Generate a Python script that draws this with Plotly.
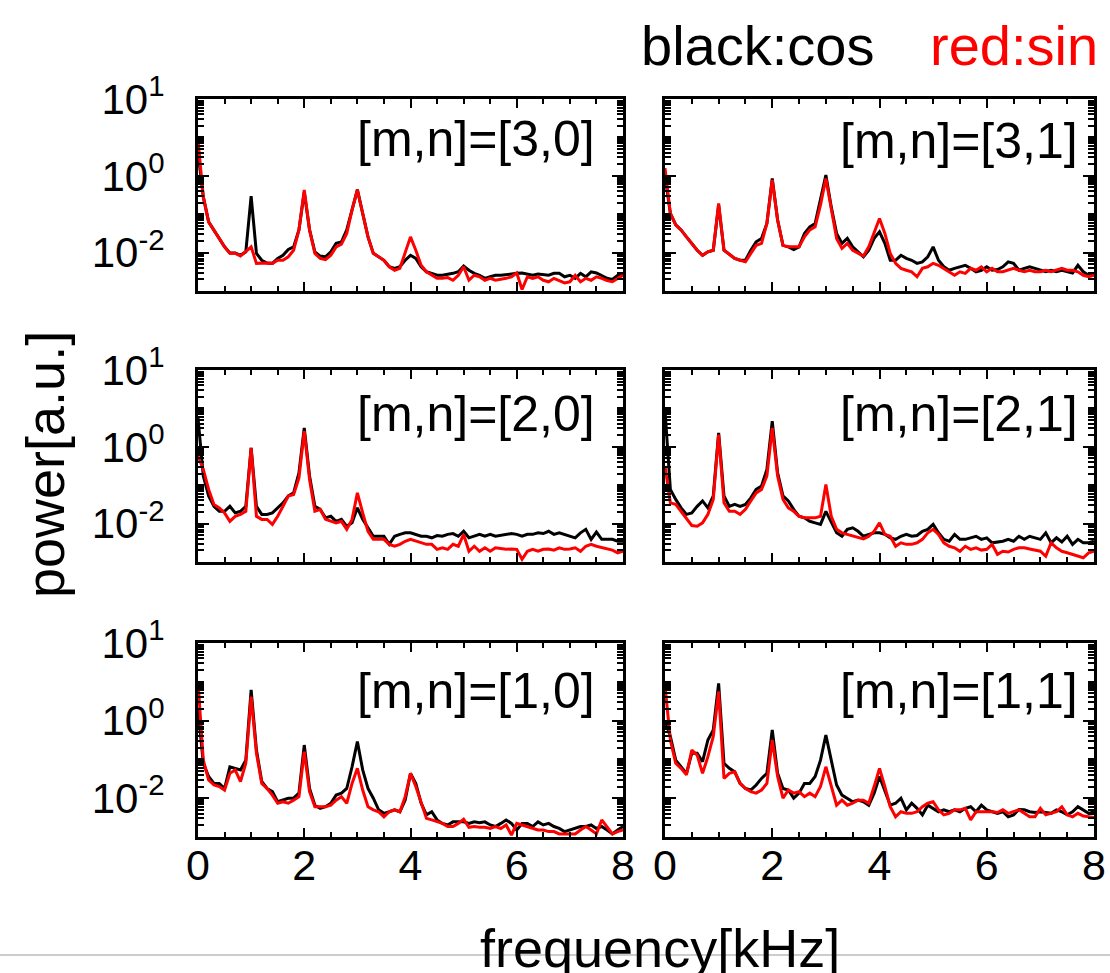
import numpy as np
import plotly.graph_objects as go

# frequency axis, 0 to 8 kHz in 0.1 kHz steps
freq_khz = np.round(np.arange(81) * 0.1, 1)

# log10 of spectral power for each mode; cos (black) and sin (red)
lg_cos_30 = [0.60, -0.55, -1.20, -1.41, -1.63, -1.85, -2.01, -2.01, -2.07, -1.98,
             -0.53, -2.02, -2.20, -2.27, -2.28, -2.15, -2.07, -1.92, -1.85, -1.41,
             -0.42, -1.41, -1.98, -2.09, -2.11, -1.98, -1.76, -1.72, -1.41, -0.89,
             -0.36, -0.98, -1.59, -2.02, -2.11, -2.20, -2.37, -2.41, -2.37, -2.20,
             -2.07, -2.15, -2.37, -2.50, -2.54, -2.59, -2.59, -2.57, -2.54, -2.50,
             -2.35, -2.46, -2.54, -2.59, -2.67, -2.63, -2.59, -2.59, -2.57, -2.56,
             -2.54, -2.53, -2.56, -2.59, -2.56, -2.57, -2.59, -2.54, -2.54, -2.63,
             -2.59, -2.67, -2.54, -2.63, -2.50, -2.53, -2.59, -2.67, -2.70, -2.59,
             -2.54]
lg_sin_30 = [0.93, -0.55, -1.20, -1.41, -1.63, -1.85, -2.02, -2.02, -2.09, -1.98,
             -1.85, -2.28, -2.27, -2.27, -2.28, -2.20, -2.20, -2.11, -1.94, -1.41,
             -0.37, -1.41, -2.02, -2.15, -2.18, -2.07, -1.85, -1.78, -1.50, -0.89,
             -0.37, -0.98, -1.59, -2.02, -2.11, -2.20, -2.37, -2.46, -2.41, -2.02,
             -1.59, -1.94, -2.33, -2.50, -2.59, -2.67, -2.67, -2.65, -2.72, -2.59,
             -2.37, -2.72, -2.59, -2.63, -2.72, -2.67, -2.72, -2.70, -2.67, -2.63,
             -2.53, -2.96, -2.63, -2.67, -2.63, -2.72, -2.76, -2.67, -2.72, -2.79,
             -2.76, -2.59, -2.76, -2.67, -2.72, -2.63, -2.67, -2.73, -2.76, -2.67,
             -2.59]

lg_cos_31 = [0.00, -0.98, -1.28, -1.41, -1.59, -1.76, -1.94, -2.07, -1.98, -1.94,
             -0.76, -1.94, -2.04, -2.15, -2.20, -2.20, -1.94, -1.72, -1.63, -1.24,
             -0.07, -1.15, -1.81, -1.85, -1.92, -1.85, -1.50, -1.33, -1.24, -0.63,
             0.02, -0.81, -1.50, -1.76, -1.63, -1.85, -1.98, -2.11, -1.94, -1.63,
             -1.46, -1.76, -2.20, -2.20, -2.07, -2.15, -2.20, -2.28, -2.24, -2.11,
             -1.85, -2.20, -2.37, -2.46, -2.41, -2.37, -2.33, -2.41, -2.50, -2.46,
             -2.37, -2.46, -2.44, -2.37, -2.24, -2.28, -2.46, -2.41, -2.37, -2.41,
             -2.46, -2.50, -2.46, -2.50, -2.46, -2.50, -2.53, -2.33, -2.50, -2.59,
             -2.54]
lg_sin_31 = [0.20, -0.98, -1.28, -1.41, -1.59, -1.76, -1.94, -2.07, -1.98, -1.94,
             -0.72, -1.94, -2.04, -2.15, -2.20, -2.24, -2.02, -1.81, -1.76, -1.24,
             -0.11, -1.15, -1.81, -1.85, -1.85, -1.85, -1.59, -1.41, -1.33, -0.76,
             -0.07, -0.89, -1.63, -1.89, -1.76, -1.94, -2.02, -2.09, -1.85, -1.46,
             -1.11, -1.50, -2.02, -2.28, -2.41, -2.46, -2.50, -2.63, -2.41, -2.37,
             -2.28, -2.33, -2.41, -2.50, -2.59, -2.50, -2.54, -2.41, -2.46, -2.37,
             -2.50, -2.41, -2.50, -2.50, -2.46, -2.41, -2.46, -2.50, -2.46, -2.50,
             -2.50, -2.46, -2.50, -2.46, -2.41, -2.46, -2.46, -2.50, -2.59, -2.63,
             -2.59]

lg_cos_20 = [0.75, -0.76, -1.28, -1.55, -1.68, -1.68, -1.55, -1.72, -1.68, -1.55,
             -0.03, -1.55, -1.76, -1.76, -1.72, -1.59, -1.46, -1.28, -1.20, -0.68,
             0.49, -0.76, -1.55, -1.63, -1.85, -1.81, -1.94, -1.89, -2.07, -1.98,
             -1.59, -1.89, -2.11, -2.33, -2.33, -2.33, -2.54, -2.33, -2.28, -2.24,
             -2.24, -2.28, -2.33, -2.33, -2.37, -2.31, -2.33, -2.28, -2.26, -2.33,
             -2.20, -2.37, -2.33, -2.28, -2.33, -2.28, -2.33, -2.31, -2.28, -2.26,
             -2.28, -2.33, -2.28, -2.28, -2.24, -2.26, -2.20, -2.28, -2.24, -2.28,
             -2.31, -2.37, -2.24, -2.15, -2.41, -2.22, -2.41, -2.41, -2.41, -2.46,
             -2.46]
lg_sin_20 = [-0.24, -0.59, -1.11, -1.50, -1.59, -1.72, -1.94, -1.81, -1.76, -1.68,
             -0.03, -1.81, -1.89, -1.89, -2.02, -1.81, -1.55, -1.28, -1.24, -0.81,
             0.41, -0.85, -1.68, -1.63, -1.89, -1.94, -1.98, -1.94, -2.15, -1.89,
             -1.20, -1.72, -2.20, -2.41, -2.41, -2.41, -2.54, -2.59, -2.54, -2.46,
             -2.41, -2.46, -2.50, -2.54, -2.54, -2.67, -2.63, -2.67, -2.54, -2.59,
             -2.28, -2.72, -2.59, -2.72, -2.63, -2.72, -2.63, -2.66, -2.67, -2.66,
             -2.67, -2.93, -2.72, -2.67, -2.72, -2.67, -2.66, -2.69, -2.63, -2.67,
             -2.66, -2.63, -2.72, -2.59, -2.54, -2.59, -2.63, -2.66, -2.69, -2.76,
             -2.72]

lg_cos_21 = [0.95, -1.11, -1.37, -1.59, -1.76, -1.72, -1.55, -1.41, -1.59, -1.28,
             0.36, -1.28, -1.55, -1.50, -1.55, -1.50, -1.33, -1.11, -1.02, -0.59,
             0.67, -0.68, -1.28, -1.41, -1.63, -1.81, -1.85, -1.94, -1.98, -2.02,
             -1.68, -1.98, -2.24, -2.33, -2.15, -2.11, -2.20, -2.33, -2.28, -2.24,
             -2.24, -2.28, -2.37, -2.41, -2.33, -2.28, -2.33, -2.31, -2.20, -2.15,
             -2.02, -2.24, -2.41, -2.46, -2.28, -2.41, -2.41, -2.37, -2.33, -2.41,
             -2.37, -2.50, -2.48, -2.46, -2.41, -2.46, -2.33, -2.41, -2.33, -2.37,
             -2.41, -2.24, -2.50, -2.37, -2.48, -2.33, -2.54, -2.41, -2.50, -2.50,
             -2.46]
lg_sin_21 = [-0.50, -1.46, -1.50, -1.68, -1.89, -2.05, -2.07, -1.98, -1.76, -1.37,
             0.32, -1.46, -1.68, -1.68, -1.76, -1.63, -1.41, -1.20, -1.11, -0.76,
             0.49, -0.76, -1.37, -1.59, -1.68, -1.81, -1.85, -1.85, -1.85, -1.81,
             -0.98, -1.81, -2.15, -2.24, -2.28, -2.33, -2.37, -2.40, -2.33, -2.20,
             -1.98, -2.28, -2.33, -2.59, -2.50, -2.54, -2.54, -2.50, -2.41, -2.24,
             -2.15, -2.28, -2.50, -2.59, -2.63, -2.72, -2.59, -2.67, -2.63, -2.69,
             -2.67, -2.54, -2.80, -2.72, -2.74, -2.67, -2.63, -2.63, -2.66, -2.69,
             -2.72, -2.85, -2.50, -2.63, -2.72, -2.76, -2.80, -2.85, -2.89, -2.76,
             -2.72]

lg_cos_10 = [0.30, -1.10, -1.44, -1.62, -1.62, -1.75, -1.19, -1.23, -1.27, -1.02,
             0.79, -0.76, -1.57, -1.75, -1.83, -2.09, -2.05, -2.00, -2.00, -1.87,
             -0.63, -1.75, -2.18, -2.26, -2.22, -2.13, -1.92, -1.87, -1.75, -1.19,
             -0.54, -1.27, -1.75, -2.00, -2.30, -2.39, -2.35, -2.30, -2.35, -2.05,
             -1.36, -1.62, -2.13, -2.43, -2.35, -2.56, -2.65, -2.69, -2.61, -2.61,
             -2.61, -2.65, -2.61, -2.63, -2.61, -2.69, -2.73, -2.65, -2.56, -2.65,
             -2.82, -2.65, -2.65, -2.73, -2.61, -2.69, -2.65, -2.73, -2.78, -2.86,
             -2.82, -2.78, -2.73, -2.73, -2.69, -2.78, -2.73, -2.82, -2.92, -2.82,
             -2.73]
lg_sin_10 = [1.00, -1.02, -1.53, -1.66, -1.70, -1.79, -1.36, -1.27, -1.57, -1.10,
             0.62, -0.84, -1.62, -1.75, -1.92, -2.13, -2.09, -2.13, -2.05, -1.96,
             -0.80, -1.83, -2.22, -2.22, -2.22, -2.18, -2.05, -1.96, -2.13, -1.62,
             -1.23, -1.79, -2.22, -2.30, -2.35, -2.48, -2.35, -2.30, -2.35, -1.96,
             -1.36, -1.70, -2.13, -2.52, -2.56, -2.61, -2.65, -2.73, -2.73, -2.65,
             -2.54, -2.75, -2.73, -2.75, -2.75, -2.78, -2.73, -2.78, -2.69, -2.95,
             -2.65, -2.69, -2.73, -2.78, -2.82, -2.82, -2.86, -2.86, -2.92, -2.92,
             -2.92, -2.92, -2.82, -2.73, -2.82, -2.92, -2.56, -2.73, -2.92, -2.86,
             -2.82]

lg_cos_11 = [0.00, -0.41, -1.02, -1.19, -1.36, -0.84, -0.84, -1.06, -0.50, -0.24,
             0.96, -1.10, -1.23, -1.32, -1.62, -1.75, -1.79, -1.66, -1.49, -1.36,
             -0.24, -1.36, -1.75, -1.79, -2.00, -1.87, -1.62, -1.62, -1.44, -1.02,
             -0.37, -1.02, -1.66, -1.92, -2.00, -2.09, -2.05, -2.09, -2.18, -1.87,
             -1.44, -1.79, -2.18, -2.13, -2.00, -2.30, -2.13, -2.26, -2.43, -2.18,
             -2.26, -2.35, -2.30, -2.35, -2.30, -2.35, -2.26, -2.22, -2.35, -2.18,
             -2.30, -2.35, -2.39, -2.35, -2.48, -2.43, -2.29, -2.30, -2.35, -2.37,
             -2.35, -2.37, -2.39, -2.30, -2.35, -2.43, -2.35, -2.22, -2.30, -2.39,
             -2.35]
lg_sin_11 = [0.90, -0.50, -1.10, -1.23, -1.40, -0.76, -0.89, -1.36, -0.93, -0.41,
             0.75, -1.49, -1.36, -1.32, -1.62, -1.75, -1.83, -1.87, -1.79, -1.62,
             -0.50, -1.44, -2.00, -1.79, -1.87, -1.83, -1.96, -1.87, -1.96, -1.70,
             -1.19, -1.70, -2.18, -2.05, -2.18, -2.13, -2.05, -2.05, -2.13, -1.70,
             -1.23, -1.70, -2.22, -2.48, -2.35, -2.39, -2.39, -2.35, -2.22, -2.13,
             -2.09, -2.30, -2.43, -2.39, -2.30, -2.30, -2.26, -2.56, -2.35, -2.35,
             -2.35, -2.35, -2.37, -2.30, -2.39, -2.35, -2.30, -2.39, -2.48, -2.48,
             -2.26, -2.43, -2.39, -2.35, -2.22, -2.43, -2.48, -2.39, -2.46, -2.48,
             -2.50]

mode_labels = ["[m,n]=[3,0]", "[m,n]=[3,1]",
               "[m,n]=[2,0]", "[m,n]=[2,1]",
               "[m,n]=[1,0]", "[m,n]=[1,1]"]
cos_series = [lg_cos_30, lg_cos_31, lg_cos_20, lg_cos_21, lg_cos_10, lg_cos_11]
sin_series = [lg_sin_30, lg_sin_31, lg_sin_20, lg_sin_21, lg_sin_10, lg_sin_11]

y_tickvals = [1e-2, 1e0, 1e2]
y_ticktext = ["10<sup>-2</sup>", "10<sup>0</sup>", "10<sup>1</sup>"]
x_tickvals = [0, 2, 4, 6, 8]
x_ticktext = ["0", "2", "4", "6", "8"]

W, H = 1110, 973
FONT = "Liberation Sans, Arial, Helvetica, sans-serif"

# panel frames in pixels: (left, right) per column, (top, bottom) per row
cols_px = [(198, 623), (665, 1094)]
rows_px = [(99, 291), (370, 562), (643, 837)]
label_pos = [(0.939, 0.79), (0.967, 0.78),
             (0.939, 0.77), (0.967, 0.77),
             (0.939, 0.755), (0.967, 0.755)]

minor_y = [k * 10.0 ** d for d in range(-3, 2) for k in range(1, 10) if not (k == 1 and d in (-2, 0))]

fig = go.Figure()
layout = dict(
    width=W, height=H,
    margin=dict(l=0, r=0, t=0, b=0, pad=0, autoexpand=False),
    paper_bgcolor="white", plot_bgcolor="white",
    showlegend=False,
    font=dict(family=FONT, color="black"),
    annotations=[], shapes=[],
)

for i in range(6):
    r, c = divmod(i, 2)
    n = i + 1
    xa = "x" if n == 1 else f"x{n}"
    ya = "y" if n == 1 else f"y{n}"
    fig.add_trace(go.Scatter(x=freq_khz, y=np.power(10.0, cos_series[i]), mode="lines",
                             line=dict(color="black", width=3), xaxis=xa, yaxis=ya))
    fig.add_trace(go.Scatter(x=freq_khz, y=np.power(10.0, sin_series[i]), mode="lines",
                             line=dict(color="#ff0000", width=3), xaxis=xa, yaxis=ya))

    l, rr = cols_px[c]
    t, b = rows_px[r]
    xdom = [l / W, rr / W]
    ydom = [1 - b / H, 1 - t / H]
    layout["xaxis" if n == 1 else f"xaxis{n}"] = dict(
        domain=xdom, anchor=ya, range=[0, 8], automargin=False,
        showline=True, linecolor="black", linewidth=3, mirror="allticks",
        ticks="inside", ticklen=9, tickwidth=2, tickcolor="black",
        tickmode="array", tickvals=x_tickvals, ticktext=x_ticktext,
        showticklabels=(r == 2), tickfont=dict(size=43, family=FONT),
        ticklabelstandoff=-12,
        minor=dict(ticks="inside", ticklen=5, tickwidth=2, tickcolor="black", dtick=0.5, tick0=0),
        showgrid=False, zeroline=False,
    )
    layout["yaxis" if n == 1 else f"yaxis{n}"] = dict(
        domain=ydom, anchor=xa, type="log", range=[-3, 2], automargin=False,
        showline=True, linecolor="black", linewidth=3, mirror="allticks",
        ticks="inside", ticklen=11, tickwidth=2, tickcolor="black",
        tickmode="array", tickvals=y_tickvals, ticktext=y_ticktext,
        showticklabels=(c == 0), tickfont=dict(size=42, family=FONT),
        ticklabelstandoff=22,
        minor=dict(ticks="inside", ticklen=6, tickwidth=2, tickcolor="black",
                   tickmode="array", tickvals=minor_y),
        showgrid=False, zeroline=False,
    )
    lx, ly = label_pos[i]
    layout["annotations"].append(dict(
        text=mode_labels[i], xref=f"{xa} domain", yref=f"{ya} domain",
        x=lx, y=ly, xanchor="right", yanchor="middle", showarrow=False,
        font=dict(size=50, family=FONT, color="black"),
    ))

layout["annotations"] += [
    dict(text="black:cos", xref="paper", yref="paper", x=757 / W, y=1 - 45 / H,
         xanchor="center", yanchor="middle", showarrow=False,
         font=dict(size=56, family=FONT, color="black")),
    dict(text="red:sin", xref="paper", yref="paper", x=1014 / W, y=1 - 45 / H,
         xanchor="center", yanchor="middle", showarrow=False,
         font=dict(size=56, family=FONT, color="#ff0000")),
    dict(text="power[a.u.]", xref="paper", yref="paper", x=45 / W, y=1 - 465 / H,
         xanchor="center", yanchor="middle", textangle=-90, showarrow=False,
         font=dict(size=54, family=FONT, color="black")),
    dict(text="frequency[kHz]", xref="paper", yref="paper", x=660 / W, y=1 - 948 / H,
         xanchor="center", yanchor="middle", showarrow=False,
         font=dict(size=54, family=FONT, color="black")),
]
layout["shapes"].append(dict(type="line", xref="paper", yref="paper",
                             x0=0, x1=1, y0=1 - 955 / H, y1=1 - 955 / H,
                             line=dict(color="#cccccc", width=2), layer="below"))

fig.update_layout(**layout)
fig.write_html("out.html")
